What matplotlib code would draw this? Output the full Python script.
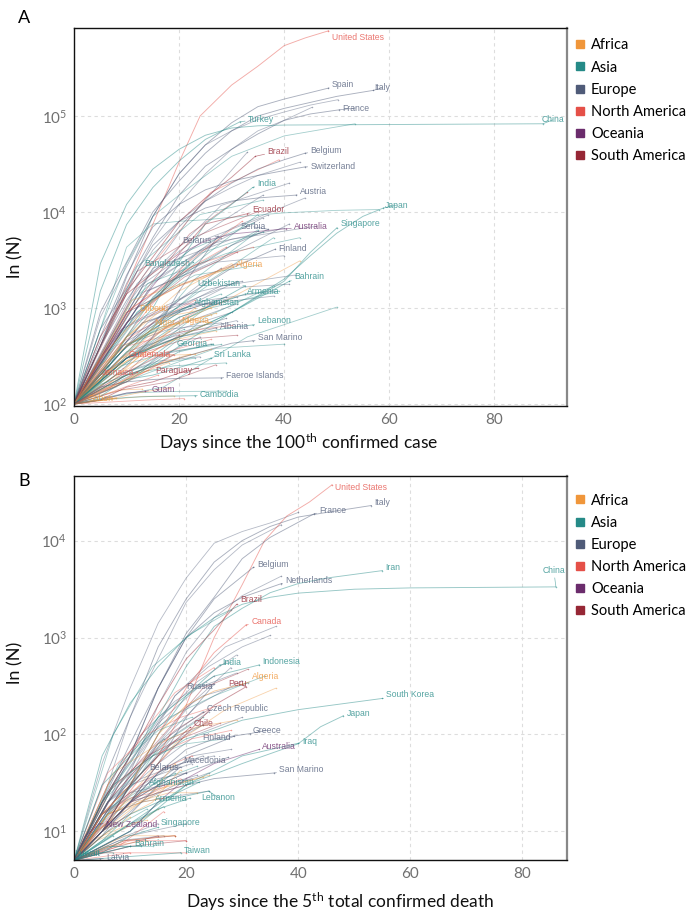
import matplotlib
matplotlib.use("Agg")
import matplotlib.pyplot as plt
from matplotlib.lines import Line2D
from matplotlib.ticker import LogLocator, LogFormatterMathtext, FixedLocator

plt.rcParams['font.family'] = ['Lato', 'DejaVu Sans']
plt.rcParams['mathtext.fontset'] = 'custom'
plt.rcParams['mathtext.rm'] = 'Lato'
plt.rcParams['mathtext.it'] = 'Lato:italic'

# continent colours
CONTINENTS = ["Africa", "Asia", "Europe", "North America", "Oceania", "South America"]
CODES = ["AF", "AS", "EU", "NA", "OC", "SA"]
COLORS = ["#f0963a", "#258a87", "#4f5b78", "#e55048", "#6b2c6c", "#962735"]
COL = dict(zip(CODES, COLORS))

# ---------------- Panel A: confirmed cases ----------------
A_LABELLED = [
    ("United States", "NA", [0, 5, 10, 16, 20, 24, 30, 35, 40, 44, 48.4], [100, 400, 1700, 10000, 33000, 100000, 210000, 330000, 540000, 650000, 770000]),
    ("Spain", "EU", [0, 5, 10, 15, 20, 25, 30, 35, 40, 48.4], [100, 400, 2100, 9000, 25000, 50000, 85000, 125000, 150000, 195000]),
    ("Italy", "EU", [0, 5, 10, 15, 20, 25, 30, 35, 40, 50, 57], [100, 900, 3000, 10000, 21000, 41000, 70000, 100000, 120000, 160000, 185000]),
    ("France", "EU", [0, 5, 10, 15, 20, 25, 30, 35, 40, 45, 50.5], [100, 400, 1800, 5400, 15000, 30000, 45000, 65000, 90000, 105000, 116000]),
    ("China", "AS", [0, 5, 10, 15, 20, 25, 30, 35, 40, 50, 60, 70, 89.3], [100, 2900, 12000, 28000, 45000, 63000, 75000, 79000, 80500, 81000, 81500, 82000, 83000]),
    ("Turkey", "AS", [0, 5, 10, 15, 20, 25, 31.6], [100, 1500, 7400, 18000, 34000, 57000, 87000]),
    ("Brazil", "SA", [0, 5, 10, 15, 20, 25, 30, 34.5], [100, 400, 1500, 3400, 7900, 14000, 23000, 38000]),
    ("Belgium", "EU", [0, 5, 10, 15, 20, 25, 30, 35, 40, 44], [100, 400, 1200, 3000, 7000, 13000, 20000, 28000, 35000, 41000]),
    ("Switzerland", "EU", [0, 5, 10, 15, 20, 25, 30, 35, 40, 44], [100, 500, 2200, 7000, 12000, 17000, 21000, 24000, 27000, 29500]),
    ("India", "AS", [0, 5, 10, 15, 20, 25, 30, 34], [100, 170, 500, 1000, 3000, 7500, 12000, 18000]),
    ("Austria", "EU", [0, 5, 10, 15, 20, 25, 30, 35, 42.3], [100, 600, 1600, 4500, 8000, 11000, 13000, 14000, 15000]),
    ("Ecuador", "SA", [0, 5, 10, 15, 20, 25, 33], [100, 500, 1400, 2300, 3700, 7500, 9600]),
    ("Japan", "AS", [0, 10, 20, 30, 40, 45, 50, 55, 58.9], [100, 200, 500, 900, 2000, 3500, 6000, 9000, 11000]),
    ("Singapore", "AS", [0, 10, 20, 30, 40, 45, 50], [100, 170, 400, 900, 1900, 3800, 6800]),
    ("Serbia", "EU", [0, 5, 10, 15, 20, 25, 30, 37], [100, 250, 700, 1200, 2200, 3000, 4500, 6600]),
    ("Australia", "OC", [0, 5, 10, 15, 20, 25, 30, 40.4], [100, 300, 700, 1700, 3600, 5000, 5900, 6700]),
    ("Belarus", "EU", [0, 5, 10, 15, 20, 27.4], [100, 150, 250, 500, 1500, 5600]),
    ("Finland", "EU", [0, 10, 20, 30, 38.3], [100, 400, 1200, 2600, 4100]),
    ("Bangladesh", "AS", [0, 5, 10, 15, 22.7], [100, 200, 500, 1300, 3000]),
    ("Algeria", "AF", [0, 5, 10, 15, 20, 25, 30.3], [100, 300, 600, 1200, 1700, 2100, 2700]),
    ("Bahrain", "AS", [0, 10, 20, 30, 41], [100, 300, 500, 900, 1900]),
    ("Uzbekistan", "AS", [0, 10, 20, 25, 32.6], [100, 300, 700, 1000, 1700]),
    ("Armenia", "AS", [0, 10, 20, 25, 32.6], [100, 400, 800, 1000, 1400]),
    ("Afghanistan", "AS", [0, 5, 10, 15, 22], [100, 200, 400, 600, 1050]),
    ("Djibouti", "AF", [0, 5, 10, 17], [100, 200, 500, 980]),
    ("Lebanon", "AS", [0, 10, 20, 30, 34], [100, 300, 500, 630, 665]),
    ("Niger", "AF", [0, 5, 10, 15, 20], [100, 250, 400, 600, 700]),
    ("Nigeria", "AF", [0, 5, 10, 15, 20, 26], [100, 200, 280, 350, 500, 710]),
    ("Albania", "EU", [0, 5, 10, 15, 20, 27], [100, 200, 300, 400, 500, 620]),
    ("San Marino", "EU", [0, 10, 20, 30, 34], [100, 200, 300, 430, 455]),
    ("Georgia", "AS", [0, 5, 10, 15, 20, 26.5], [100, 160, 200, 250, 350, 420]),
    ("Sri Lanka", "AS", [0, 5, 10, 15, 20, 26], [100, 120, 180, 200, 240, 300]),
    ("Guatemala", "NA", [0, 5, 10, 15, 19], [100, 130, 170, 240, 325]),
    ("Jamaica", "NA", [0, 4, 8, 12], [100, 130, 160, 215]),
    ("Paraguay", "SA", [0, 5, 10, 15, 20, 23.6], [100, 110, 150, 170, 210, 236]),
    ("Faeroe Islands", "EU", [0, 5, 10, 15, 20, 28], [100, 150, 170, 180, 185, 187]),
    ("Guam", "OC", [0, 5, 10, 13.5], [100, 110, 130, 136]),
    ("Cambodia", "AS", [0, 5, 10, 15, 23], [100, 110, 117, 120, 122]),
    ("Gabon", "AF", [0, 4, 8], [100, 108, 115]),
]

# label anchor (day, value, alignment) for panel A
A_LABEL_POS = {
    "United States": (49.1, 650000, "left"), "Spain": (49.1, 215000, "left"),
    "Italy": (57.1, 196000, "left"), "France": (51.0, 121000, "left"),
    "China": (89.0, 91000, "left"), "Turkey": (33.1, 93000, "left"),
    "Brazil": (36.8, 43000, "left"), "Belgium": (45.0, 44000, "left"),
    "Switzerland": (45.0, 30000, "left"), "India": (34.9, 20000, "left"),
    "Austria": (43.0, 16500, "left"), "Ecuador": (33.9, 10500, "left"),
    "Japan": (59.2, 11800, "left"), "Singapore": (50.7, 7500, "left"),
    "Serbia": (36.6, 7000, "right"), "Australia": (41.9, 7000, "left"),
    "Belarus": (26.3, 5100, "right"), "Finland": (38.9, 4200, "left"),
    "Bangladesh": (22.1, 2940, "right"), "Algeria": (30.9, 2870, "left"),
    "Bahrain": (41.9, 2150, "left"), "Uzbekistan": (31.6, 1780, "right"),
    "Armenia": (33.0, 1470, "left"), "Afghanistan": (22.9, 1130, "left"),
    "Djibouti": (17.9, 977, "right"), "Lebanon": (34.9, 733, "left"),
    "Niger": (19.2, 698, "right"), "Nigeria": (25.7, 733, "right"),
    "Albania": (27.8, 634, "left"), "San Marino": (35.0, 487, "left"),
    "Georgia": (25.5, 422, "right"), "Sri Lanka": (26.7, 331, "left"),
    "Guatemala": (18.5, 324, "right"), "Jamaica": (11.4, 215, "right"),
    "Paraguay": (22.5, 221, "right"), "Faeroe Islands": (29.0, 200, "left"),
    "Guam": (14.7, 143, "left"), "Cambodia": (24.0, 127, "left"),
    "Gabon": (7.6, 115, "right"),
}

A_OTHER = [
    ("EU", [0, 5, 10, 15, 20, 25, 30, 35, 40, 45, 50.3], [100, 800, 2700, 9000, 25000, 50000, 70000, 92000, 110000, 130000, 148000]),
    ("EU", [0, 5, 10, 15, 20, 25, 30, 35, 40, 45.3], [100, 450, 1500, 5000, 12000, 25000, 45000, 70000, 90000, 123000]),
    ("EU", [0, 5, 10, 15, 20, 25, 30, 35, 43], [100, 400, 1400, 4000, 8000, 13000, 18000, 24000, 33000]),
    ("AS", [0, 5, 10, 15, 20, 30, 40, 53.5], [100, 600, 2900, 9000, 15000, 38000, 62000, 83000]),
    ("AS", [0, 5, 10, 15, 20, 25, 30, 40, 50, 58], [100, 600, 4300, 7500, 8000, 8300, 8800, 9800, 10400, 10600]),
    ("NA", [0, 13, 26, 39], [100, 2100, 16000, 35000]),
    ("EU", [0, 11, 22, 33], [100, 1260, 8600, 42000]),
    ("EU", [0, 14, 28, 41], [100, 2060, 11700, 20000]),
    ("EU", [0, 12, 24, 36], [100, 1800, 5700, 15000]),
    ("EU", [0, 15, 30, 44], [100, 1800, 6800, 14000]),
    ("AS", [0, 12, 24, 36], [100, 2700, 9400, 13300]),
    ("EU", [0, 12, 25, 37], [100, 1600, 5200, 9300]),
    ("EU", [0, 12, 24, 36], [100, 1000, 4000, 8700]),
    ("EU", [0, 15, 30, 46], [100, 2600, 5200, 7100]),
    ("EU", [0, 14, 28, 41], [100, 1500, 3300, 7500]),
    ("EU", [0, 13, 27, 40], [100, 1650, 4800, 6800]),
    ("EU", [0, 9, 18, 28], [100, 550, 1900, 5400]),
    ("EU", [0, 13, 27, 40], [100, 1450, 3000, 3500]),
    ("EU", [0, 9, 18, 28], [100, 350, 1000, 2600]),
    ("EU", [0, 10, 21, 31], [100, 450, 1000, 1900]),
    ("EU", [0, 14, 28, 42], [100, 700, 1700, 2200]),
    ("EU", [0, 11, 22, 32], [100, 700, 1400, 1900]),
    ("EU", [0, 14, 28, 41], [100, 800, 1600, 1770]),
    ("EU", [0, 13, 25, 38], [100, 700, 1200, 1500]),
    ("EU", [0, 10, 20, 29], [100, 400, 900, 1300]),
    ("EU", [0, 10, 21, 31], [100, 500, 1000, 1300]),
    ("EU", [0, 13, 25, 38], [100, 700, 1100, 1330]),
    ("EU", [0, 10, 20, 29], [100, 300, 800, 1200]),
    ("EU", [0, 10, 21, 31], [100, 300, 700, 1100]),
    ("EU", [0, 10, 20, 30], [100, 300, 600, 900]),
    ("EU", [0, 10, 21, 31], [100, 350, 550, 740]),
    ("EU", [0, 9, 18, 28], [100, 400, 600, 700]),
    ("EU", [0, 10, 20, 29], [100, 300, 550, 780]),
    ("EU", [0, 9, 17, 26], [100, 200, 330, 420]),
    ("EU", [0, 8, 16, 24], [100, 150, 300, 500]),
    ("EU", [0, 8, 16, 24], [100, 200, 280, 310]),
    ("AS", [0, 12, 23, 35], [100, 900, 2900, 9400]),
    ("AS", [0, 11, 22, 34], [100, 1200, 4000, 7600]),
    ("AS", [0, 13, 25, 38], [100, 500, 1800, 5400]),
    ("AS", [0, 12, 23, 35], [100, 400, 2000, 6300]),
    ("AS", [0, 12, 23, 35], [100, 900, 2700, 6500]),
    ("AS", [0, 12, 24, 36], [100, 800, 3700, 6200]),
    ("AS", [0, 14, 29, 43], [100, 1800, 3700, 5400]),
    ("AS", [0, 12, 23, 35], [100, 1000, 2200, 2800]),
    ("AS", [0, 9, 17, 26], [100, 350, 800, 1800]),
    ("AS", [0, 13, 25, 38], [100, 230, 800, 1700]),
    ("AS", [0, 9, 18, 27], [100, 250, 500, 1200]),
    ("AS", [0, 9, 19, 28], [100, 300, 900, 1400]),
    ("AS", [0, 13, 26, 39], [100, 500, 1000, 1500]),
    ("AS", [0, 10, 19, 29], [100, 200, 250, 268]),
    ("AS", [0, 13, 27, 40], [100, 200, 380, 420]),
    ("AS", [0, 9, 18, 28], [100, 250, 350, 417]),
    ("AS", [0, 7, 14, 21], [100, 200, 400, 600]),
    ("AS", [0, 8, 15, 23], [100, 200, 260, 300]),
    ("AS", [0, 17, 33, 50], [100, 150, 500, 1020]),
    ("AS", [0, 10, 19, 29], [100, 130, 135, 136]),
    ("NA", [0, 11, 21, 32], [100, 600, 2800, 8000]),
    ("NA", [0, 10, 19, 29], [100, 900, 2100, 4300]),
    ("NA", [0, 11, 23, 34], [100, 1000, 2800, 4300]),
    ("NA", [0, 9, 17, 26], [100, 300, 600, 1100]),
    ("NA", [0, 9, 17, 26], [100, 200, 340, 470]),
    ("NA", [0, 10, 20, 30], [100, 400, 560, 660]),
    ("NA", [0, 5, 11, 16], [100, 120, 160, 200]),
    ("NA", [0, 8, 15, 23], [100, 400, 700, 1200]),
    ("NA", [0, 7, 14, 21], [100, 105, 110, 114]),
    ("SA", [0, 11, 22, 33], [100, 1000, 5900, 16000]),
    ("SA", [0, 12, 23, 35], [100, 2400, 5500, 10100]),
    ("SA", [0, 10, 21, 31], [100, 700, 2100, 3800]),
    ("SA", [0, 10, 21, 31], [100, 900, 1800, 2900]),
    ("SA", [0, 7, 13, 20], [100, 150, 300, 520]),
    ("SA", [0, 10, 21, 31], [100, 300, 470, 520]),
    ("SA", [0, 9, 18, 27], [100, 140, 170, 256]),
    ("AF", [0, 11, 22, 33], [100, 1200, 1900, 3100]),
    ("AF", [0, 14, 29, 43], [100, 500, 1200, 3100]),
    ("AF", [0, 10, 20, 30], [100, 500, 1500, 2900]),
    ("AF", [0, 9, 17, 26], [100, 300, 800, 1000]),
    ("AF", [0, 8, 15, 23], [100, 200, 400, 1000]),
    ("AF", [0, 9, 17, 26], [100, 250, 600, 850]),
    ("AF", [0, 9, 18, 27], [100, 400, 650, 880]),
    ("AF", [0, 6, 12, 18], [100, 150, 300, 580]),
    ("AF", [0, 9, 18, 27], [100, 300, 450, 580]),
    ("AF", [0, 9, 17, 26], [100, 190, 270, 370]),
    ("AF", [0, 8, 15, 23], [100, 200, 320, 328]),
    ("AF", [0, 7, 15, 22], [100, 150, 250, 330]),
    ("AF", [0, 6, 12, 18], [100, 140, 200, 270]),
    ("AF", [0, 5, 9, 14], [100, 140, 170, 224]),
    ("AF", [0, 6, 12, 18], [100, 110, 130, 147]),
    ("AF", [0, 6, 13, 19], [100, 110, 120, 121]),
    ("AF", [0, 4, 9, 13], [100, 120, 140, 143]),
    ("OC", [0, 9, 19, 28], [100, 600, 1100, 1100]),
]

# ---------------- Panel B: deaths ----------------
B_LABELLED = [
    ("United States", "NA", [0, 10, 15, 20, 25, 30, 34, 38, 42, 46], [5, 26, 60, 200, 1000, 3500, 10000, 18000, 25000, 37500]),
    ("Italy", "EU", [0, 5, 10, 15, 20, 25, 30, 35, 40, 45, 53], [5, 30, 150, 800, 2500, 6000, 10000, 14000, 17500, 19500, 23000]),
    ("France", "EU", [0, 5, 10, 15, 20, 25, 30, 35, 42.9], [5, 20, 80, 300, 1100, 2600, 6500, 10800, 19000]),
    ("Belgium", "EU", [0, 5, 10, 15, 20, 25, 32], [5, 15, 60, 300, 1000, 2500, 5300]),
    ("Netherlands", "EU", [0, 5, 10, 15, 20, 25, 30, 37], [5, 20, 60, 300, 1000, 1800, 2600, 3600]),
    ("Iran", "AS", [0, 5, 10, 15, 20, 25, 30, 35, 40, 45, 55], [5, 30, 60, 150, 500, 1300, 2000, 2900, 3600, 4100, 4900]),
    ("China", "AS", [0, 5, 10, 15, 20, 25, 30, 35, 40, 50, 60, 70, 86], [5, 60, 210, 500, 1000, 1600, 2200, 2600, 2870, 3150, 3250, 3280, 3330]),
    ("Brazil", "SA", [0, 5, 10, 15, 20, 25, 29], [5, 20, 60, 200, 600, 1200, 2200]),
    ("Canada", "NA", [0, 5, 10, 15, 20, 25, 30.7], [5, 15, 30, 100, 300, 700, 1350]),
    ("India", "AS", [0, 5, 10, 15, 20, 26], [5, 10, 30, 100, 250, 520]),
    ("Indonesia", "AS", [0, 5, 10, 15, 20, 25, 33], [5, 20, 50, 150, 250, 400, 520]),
    ("Algeria", "AF", [0, 5, 10, 15, 20, 25, 30], [5, 15, 30, 100, 200, 280, 330]),
    ("Peru", "SA", [0, 5, 10, 15, 20, 25, 30.7], [5, 10, 20, 50, 100, 200, 310]),
    ("Russia", "EU", [0, 5, 10, 15, 20, 25], [5, 9, 20, 50, 150, 330]),
    ("South Korea", "AS", [0, 5, 10, 15, 20, 25, 30, 40, 55], [5, 13, 30, 60, 90, 110, 140, 180, 235]),
    ("Czech Republic", "EU", [0, 5, 10, 15, 23], [5, 10, 30, 80, 170]),
    ("Japan", "AS", [0, 10, 20, 30, 40, 44, 48], [5, 12, 30, 50, 80, 120, 155]),
    ("Chile", "SA", [0, 5, 10, 15, 20.7], [5, 10, 30, 60, 118]),
    ("Greece", "EU", [0, 5, 10, 15, 20, 25, 31.4], [5, 10, 20, 40, 70, 90, 102]),
    ("Finland", "EU", [0, 5, 10, 15, 20, 28.6], [5, 10, 20, 40, 60, 96]),
    ("Iraq", "AS", [0, 10, 20, 30, 40], [5, 10, 30, 60, 81]),
    ("Australia", "OC", [0, 5, 10, 15, 20, 25, 33], [5, 7, 10, 20, 35, 50, 70]),
    ("Macedonia", "EU", [0, 5, 10, 15, 20, 27.5], [5, 10, 20, 30, 40, 58]),
    ("Belarus", "EU", [0, 5, 10, 15, 19], [5, 10, 15, 30, 46]),
    ("San Marino", "EU", [0, 5, 10, 15, 20, 25, 35.7], [5, 10, 20, 25, 30, 35, 40]),
    ("Afghanistan", "AS", [0, 5, 10, 15, 22.3], [5, 7, 10, 20, 32]),
    ("Armenia", "AS", [0, 5, 10, 15, 20.7], [5, 8, 12, 17, 22]),
    ("Lebanon", "AS", [0, 5, 10, 15, 24], [5, 8, 15, 20, 26]),
    ("New Zealand", "OC", [0, 2, 4.6], [5, 9, 12]),
    ("Singapore", "AS", [0, 5, 10, 15], [5, 6, 9, 11]),
    ("Bahrain", "AS", [0, 5, 10], [5, 6, 7]),
    ("Taiwan", "AS", [0, 10, 19], [5, 5.5, 6]),
    ("Kuwait", "AS", [0, 1], [5, 5.8]),
    ("Latvia", "EU", [0, 4.6], [5, 5.2]),
]

B_LABEL_POS = {
    "United States": (46.6, 35200, "left"), "Italy": (53.6, 24600, "left"),
    "France": (43.75, 20400, "left"), "Belgium": (32.7, 5660, "left"),
    "Netherlands": (37.7, 3870, "left"), "Iran": (55.5, 5270, "left"),
    "China": (83.6, 4900, "left"), "Brazil": (29.6, 2470, "left"),
    "Canada": (31.6, 1460, "left"), "India": (26.4, 552, "left"),
    "Indonesia": (33.6, 566, "left"), "Algeria": (31.8, 396, "left"),
    "Peru": (27.5, 336, "left"), "Russia": (24.8, 313, "right"),
    "South Korea": (55.7, 258, "left"), "Czech Republic": (23.75, 185, "left"),
    "Japan": (48.6, 164, "left"), "Chile": (21.4, 130, "left"),
    "Greece": (31.8, 110, "left"), "Finland": (27.9, 93, "right"),
    "Iraq": (40.7, 85, "left"), "Australia": (33.6, 75, "left"),
    "Macedonia": (27.0, 54, "right"), "Belarus": (18.6, 45.7, "right"),
    "San Marino": (36.6, 43.5, "left"), "Afghanistan": (21.6, 32, "right"),
    "Armenia": (20.2, 21.9, "right"), "Lebanon": (22.7, 22.4, "left"),
    "New Zealand": (5.7, 11.8, "left"), "Singapore": (15.5, 12.4, "left"),
    "Bahrain": (10.7, 7.5, "left"), "Taiwan": (19.6, 6.4, "left"),
    "Kuwait": (0.1, 5.93, "left"), "Latvia": (5.7, 5.4, "left"),
}

B_OTHER = [
    ("EU", [0, 5, 10, 15, 20, 25, 30, 35, 40], [5, 50, 300, 1400, 4100, 9400, 12400, 15200, 19500]),
    ("EU", [0, 5, 10, 15, 20, 25, 30, 37], [5, 20, 150, 600, 2300, 5000, 9000, 14600]),
    ("EU", [0, 5, 10, 15, 20, 25, 30, 37], [5, 12, 40, 200, 700, 1600, 2700, 4300]),
    ("EU", [0, 6, 12, 18, 24, 30, 35], [5, 20, 70, 250, 500, 800, 1050]),
    ("AS", [0, 7, 14, 21, 28], [5, 100, 500, 1100, 1900]),
    ("EU", [0, 9, 18, 27, 36], [5, 30, 250, 800, 1300]),
    ("EU", [0, 7, 15, 22, 29], [5, 30, 140, 350, 660]),
    ("EU", [0, 7, 14, 21, 28], [5, 20, 70, 210, 490]),
    ("EU", [0, 7, 15, 22, 29], [5, 30, 130, 300, 430]),
    ("EU", [0, 8, 15, 23, 31], [5, 30, 120, 250, 340]),
    ("EU", [0, 6, 12, 18, 25], [5, 30, 100, 220, 400]),
    ("EU", [0, 7, 15, 22, 30], [5, 20, 80, 200, 360]),
    ("SA", [0, 8, 16, 23, 31], [5, 30, 100, 300, 470]),
    ("NA", [0, 6, 12, 18, 25], [5, 30, 100, 270, 490]),
    ("AS", [0, 8, 17, 25, 34], [5, 50, 150, 250, 400]),
    ("AF", [0, 9, 18, 27, 36], [5, 20, 80, 180, 300]),
    ("EU", [0, 7, 15, 22, 30], [5, 20, 50, 100, 150]),
    ("EU", [0, 6, 12, 18, 24], [5, 15, 40, 100, 170]),
    ("EU", [0, 6, 12, 17, 23], [5, 20, 50, 90, 125]),
    ("EU", [0, 6, 12, 17, 23], [5, 20, 40, 80, 125]),
    ("SA", [0, 6, 12, 18, 24], [5, 20, 50, 110, 180]),
    ("NA", [0, 6, 13, 19, 26], [5, 40, 100, 150, 200]),
    ("AS", [0, 5, 10, 15, 21], [5, 20, 60, 110, 150]),
    ("AS", [0, 6, 12, 17, 23], [5, 20, 45, 90, 150]),
    ("SA", [0, 6, 13, 19, 26], [5, 25, 60, 90, 130]),
    ("NA", [0, 7, 14, 21, 28], [5, 30, 60, 90, 110]),
    ("AF", [0, 7, 15, 22, 29], [5, 40, 80, 120, 140]),
    ("EU", [0, 7, 14, 21, 28], [5, 15, 30, 60, 70]),
    ("EU", [0, 6, 12, 19, 25], [5, 20, 35, 50, 60]),
    ("EU", [0, 6, 12, 17, 23], [5, 15, 30, 45, 60]),
    ("EU", [0, 5, 10, 16, 21], [5, 15, 30, 40, 50]),
    ("EU", [0, 5, 10, 15, 20], [5, 10, 20, 30, 40]),
    ("EU", [0, 6, 12, 18, 24], [5, 10, 20, 30, 40]),
    ("EU", [0, 5, 10, 15, 20], [5, 15, 25, 35, 40]),
    ("EU", [0, 5, 11, 16, 22], [5, 10, 20, 30, 38]),
    ("EU", [0, 6, 12, 18, 24], [5, 15, 20, 23, 26]),
    ("EU", [0, 5, 10, 16, 21], [5, 15, 25, 30, 35]),
    ("AS", [0, 5, 10, 14, 19], [5, 20, 40, 60, 90]),
    ("AS", [0, 7, 14, 20, 27], [5, 30, 60, 80, 90]),
    ("AS", [0, 4, 8, 12, 16], [5, 10, 20, 40, 90]),
    ("AS", [0, 5, 9, 14, 18], [5, 10, 20, 30, 40]),
    ("AS", [0, 5, 11, 16, 22], [5, 15, 25, 35, 47]),
    ("NA", [0, 5, 10, 16, 21], [5, 10, 25, 45, 60]),
    ("NA", [0, 5, 10, 14, 19], [5, 15, 22, 25, 35]),
    ("NA", [0, 5, 10, 15, 20], [5, 10, 20, 25, 30]),
    ("SA", [0, 4, 8, 12, 16], [5, 10, 15, 25, 30]),
    ("AF", [0, 5, 9, 14, 18], [5, 10, 15, 25, 50]),
    ("AF", [0, 5, 10, 14, 19], [5, 10, 15, 20, 43]),
    ("AF", [0, 6, 12, 17, 23], [5, 15, 20, 30, 36]),
    ("AF", [0, 6, 12, 18, 24], [5, 15, 25, 30, 38]),
    ("AF", [0, 4, 8, 12, 16], [5, 10, 15, 20, 22]),
    ("AF", [0, 6, 11, 17, 22], [5, 15, 20, 25, 25]),
    ("AF", [0, 4, 8, 12, 15], [5, 8, 10, 13, 17]),
    ("AF", [0, 3, 7, 10, 13], [5, 8, 10, 12, 13]),
    ("AS", [0, 8, 16], [5, 10, 18]),
    ("AS", [0, 6, 13], [5, 10, 17]),
    ("EU", [0, 10, 20], [5, 9, 12]),
    ("EU", [0, 8, 16], [5, 8, 9]),
    ("EU", [0, 7, 15], [5, 8, 12]),
    ("AF", [0, 5, 10], [5, 9, 14]),
    ("AF", [0, 9, 18], [5, 8, 9]),
    ("AF", [0, 6, 13], [5, 7, 8]),
    ("AF", [0, 9, 18], [5, 9, 9]),
    ("SA", [0, 9, 18], [5, 8, 9]),
    ("SA", [0, 8, 15], [5, 7, 9]),
    ("SA", [0, 10, 20], [5, 7, 8]),
    ("NA", [0, 10, 20], [5, 8, 8]),
    ("NA", [0, 10, 20], [5, 6, 6]),
    ("NA", [0, 5, 10], [5, 6, 6]),
    ("NA", [0, 8, 16], [5, 7, 16]),
    ("AS", [0, 6, 12], [5, 7, 7]),
    ("AS", [0, 7, 14], [5, 7, 7]),
    ("AS", [0, 4, 7], [5, 7, 9]),
    ("AS", [0, 4, 7], [5, 6, 6]),
    ("EU", [0, 5, 10], [5, 6, 7]),
    ("EU", [0, 6, 12], [5, 5, 5]),
]


def draw_panel(ax, others, labelled, label_pos, xlim, ylim, xlabel, xlabel_x, xlabel_y, ylabel_y):
    for cont, d, v in others:
        ax.plot(d, v, color=COL[cont], alpha=0.42, lw=0.6, solid_capstyle='round')
        ax.plot(d[-1], v[-1], 'o', color=COL[cont], alpha=0.5, ms=1.1, mec='none')
    for name, cont, d, v in labelled:
        ax.plot(d, v, color=COL[cont], alpha=0.48, lw=0.65)
        ax.plot(d[-1], v[-1], 'o', color=COL[cont], alpha=0.55, ms=1.1, mec='none')
        lx, ly, ha = label_pos[name]
        ax.annotate(name, xy=(d[-1], v[-1]), xytext=(lx, ly), ha=ha, va='center',
                    fontsize=6.2, family=['Liberation Sans', 'DejaVu Sans'],
                    color=COL[cont], alpha=0.78,
                    arrowprops=dict(arrowstyle='-', lw=0.5, color=COL[cont], alpha=0.6,
                                    shrinkA=0, shrinkB=0))
    ax.set_yscale('log')
    ax.set_xlim(*xlim)
    ax.set_ylim(*ylim)
    ax.xaxis.set_major_locator(FixedLocator([0, 20, 40, 60, 80]))
    ax.yaxis.set_major_locator(LogLocator(base=10, numticks=10))
    ax.yaxis.set_major_formatter(LogFormatterMathtext())
    ax.yaxis.set_minor_locator(FixedLocator([]))
    ax.tick_params(length=0, labelsize=11, labelcolor='#707070', pad=5)
    ax.grid(True, which='major', color='#dddddd', lw=0.8, ls=(0, (3, 3)))
    ax.set_axisbelow(True)
    for s in ['left', 'bottom', 'top']:
        ax.spines[s].set_color('#111111')
        ax.spines[s].set_linewidth(1.0)
    ax.spines['right'].set_color('#888888')
    ax.spines['right'].set_linewidth(1.6)
    ax.set_xlabel(xlabel, fontsize=12.5, color='#111111')
    ax.xaxis.set_label_coords(xlabel_x, xlabel_y)
    ax.set_ylabel('ln (N)', fontsize=13, color='#111111')
    ax.yaxis.set_label_coords(-0.103, ylabel_y)
    handles = [Line2D([], [], marker='s', ls='', color=c, ms=6) for c in COLORS]
    return handles


fig = plt.figure(figsize=(6.86, 9.14), dpi=100)
axA = fig.add_axes([0.108, 0.5558, 0.7187, 0.4136])
axB = fig.add_axes([0.108, 0.0591, 0.7187, 0.4201])

hA = draw_panel(axA, A_OTHER, A_LABELLED, A_LABEL_POS, (0, 93.9), (95.3, 826000),
                'Days since the 100$^{\\mathrm{th}}$ confirmed case', 0.455, -0.068, 0.394)
hB = draw_panel(axB, B_OTHER, B_LABELLED, B_LABEL_POS, (0, 88.0), (5.06, 46400),
                'Days since the 5$^{\\mathrm{th}}$ total confirmed death', 0.54, -0.08, 0.513)

for ax, h, top in [(axA, hA, 0.958), (axB, hB, 0.460)]:
    ax.legend(h, CONTINENTS, loc='upper left', bbox_to_anchor=(0.838, top),
              bbox_transform=fig.transFigure, frameon=False, fontsize=10.5,
              handlelength=0.7, handletextpad=0.4, labelspacing=0.56, borderpad=0,
              borderaxespad=0)

fig.text(18 / 686, 1 - 18 / 914, 'A', fontsize=13, va='center', ha='left')
fig.text(18 / 686, 1 - 481 / 914, 'B', fontsize=13, va='center', ha='left')

fig.savefig('out.png', dpi=100)
